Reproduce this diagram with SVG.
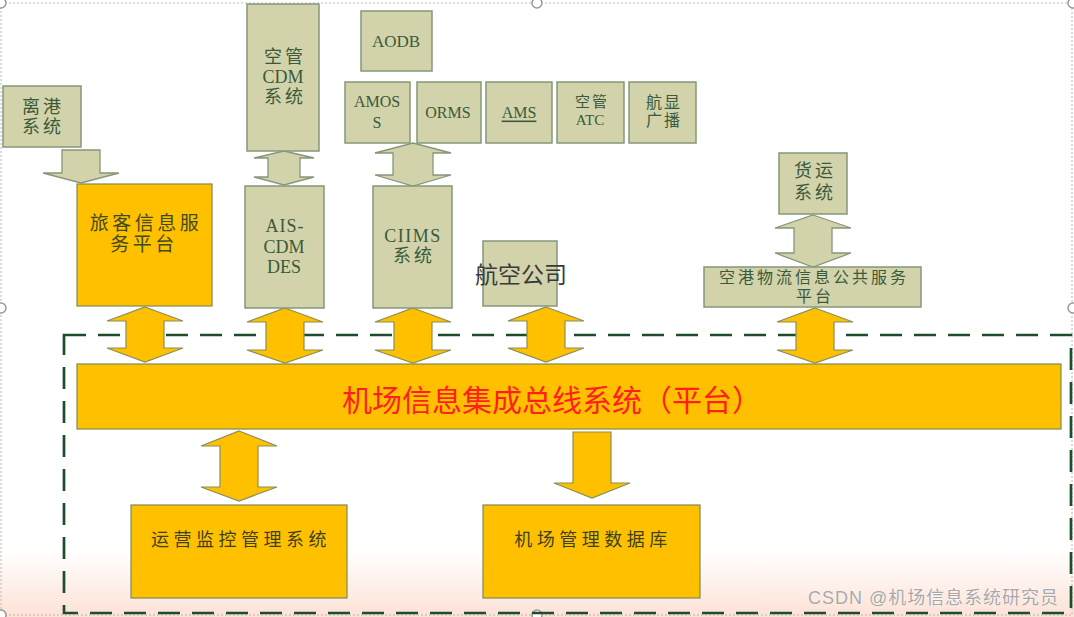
<svg xmlns="http://www.w3.org/2000/svg" width="1074" height="617" viewBox="0 0 1074 617">
<defs>
<linearGradient id="bg" x1="0" y1="0" x2="0" y2="1">
<stop offset="0" stop-color="#ffffff"/>
<stop offset="1" stop-color="#fde2d6"/>
</linearGradient>
<style>
.g{fill:#D2D3AB;stroke:#85977A;stroke-width:1.5}
.y{fill:#FFC000;stroke:#7F8A55;stroke-width:1.2}
.ga{fill:#D2D3AB;stroke:#85977A;stroke-width:1.3}
.ya{fill:#FFC000;stroke:#8A8F55;stroke-width:1.2}
.t{font-family:"Liberation Serif","Noto Sans CJK SC",serif;fill:#3A5A3A;text-anchor:middle;dominant-baseline:central}
.c{letter-spacing:3px}
.b{font-family:"Liberation Serif","Noto Sans CJK SC",serif;fill:#3E4020;text-anchor:middle;dominant-baseline:central;font-size:18px;letter-spacing:4.5px}
</style>
</defs>
<rect width="1074" height="617" fill="#ffffff"/>
<rect x="0" y="550" width="1074" height="67" fill="url(#bg)"/>
<rect x="1" y="3" width="1071" height="612" fill="none" stroke="#b8b8b8" stroke-width="1" stroke-dasharray="2,2"/>
<g fill="#ffffff" stroke="#999999" stroke-width="1.5">
<circle cx="1" cy="3" r="5"/><circle cx="537" cy="3" r="5"/><circle cx="1073" cy="3" r="5"/>
<circle cx="1" cy="308" r="5"/><circle cx="1073" cy="308" r="5"/>
<circle cx="1" cy="615" r="5"/><circle cx="537" cy="615" r="5"/>
</g>

<rect id="platform-frame" x="64" y="335" width="1007" height="278" fill="none" stroke="#1E4D2B" stroke-width="2.7" stroke-dasharray="22,12"/>

<g id="connectors">
<polygon class="ga" points="62,150 100,150 100,173 119,173 81,183 43,173 62,173"/>
<polygon class="ga" points="284,151 314,158 300,158 300,177 314,177 284,185 254,177 268,177 268,158 254,158"/>
<polygon class="ga" points="413,143 451,153 433,153 433,175 451,175 413,186 375,175 393,175 393,153 375,153"/>
<polygon class="ga" points="813,215 851,228 832,228 832,253 851,253 813,267 775,253 794,253 794,228 775,228"/>
<polygon class="ya" points="145,307 183,321 164,321 164,348 183,348 145,362 107,348 126,348 126,321 107,321"/>
<polygon class="ya" points="285,308 323,322 304,322 304,350 323,350 285,363 247,350 266,350 266,322 247,322"/>
<polygon class="ya" points="413,308 451,322 432,322 432,350 451,350 413,363 375,350 394,350 394,322 375,322"/>
<polygon class="ya" points="546,307 584,321 565,321 565,348 584,348 546,362 508,348 527,348 527,321 508,321"/>
<polygon class="ya" points="815,308 853,322 834,322 834,350 853,350 815,363 777,350 796,350 796,322 777,322"/>
<polygon class="ya" points="239,431 277,446 258,446 258,487 277,487 239,501 201,487 220,487 220,446 201,446"/>
<polygon class="ya" points="573,432 611,432 611,483 630,483 592,498 554,483 573,483"/>
</g>

<g id="lg">
<rect class="g" x="3" y="86" width="78" height="61"/>
<text class="t c" x="43" y="107" font-size="18">离港</text>
<text class="t c" x="43" y="127" font-size="18">系统</text>
</g>

<g id="pis">
<rect class="y" x="77" y="184" width="135" height="122"/>
<text class="t" x="146" y="223" font-size="19" style="fill:#3E4A22;letter-spacing:3.5px">旅客信息服</text>
<text class="t" x="144" y="244" font-size="19" style="fill:#3E4A22;letter-spacing:3.5px">务平台</text>
</g>

<g id="atccdm">
<rect class="g" x="247" y="4" width="72" height="147"/>
<text class="t c" x="285" y="57" font-size="18">空管</text>
<text class="t" x="283" y="77" font-size="18">CDM</text>
<text class="t c" x="285" y="97" font-size="18">系统</text>
</g>

<g id="aiscdm">
<rect class="g" x="245" y="186" width="79" height="122"/>
<text class="t" x="285" y="226" font-size="18" style="letter-spacing:1px">AIS-</text>
<text class="t" x="284" y="247" font-size="18">CDM</text>
<text class="t" x="284" y="267" font-size="18">DES</text>
</g>

<g id="aodb">
<rect class="g" x="361" y="11" width="71" height="60"/>
<text class="t" x="396" y="41" font-size="17">AODB</text>
</g>

<g id="amoss">
<rect class="g" x="345" y="82" width="65" height="61"/>
<text class="t" x="377" y="101" font-size="16">AMOS</text>
<text class="t" x="377" y="122" font-size="16">S</text>
</g>

<g id="orms">
<rect class="g" x="417" y="82" width="64" height="61"/>
<text class="t" x="448" y="112" font-size="16">ORMS</text>
</g>

<g id="ams">
<rect class="g" x="486" y="82" width="66" height="61"/>
<text class="t" x="519" y="112" font-size="16" text-decoration="underline">AMS</text>
</g>

<g id="atc">
<rect class="g" x="557" y="82" width="67" height="61"/>
<text class="t" x="592" y="102" font-size="15" style="letter-spacing:2px">空管</text>
<text class="t" x="590" y="120" font-size="15">ATC</text>
</g>

<g id="fids">
<rect class="g" x="629" y="82" width="67" height="61"/>
<text class="t" x="664" y="102" font-size="16" style="letter-spacing:2px">航显</text>
<text class="t" x="664" y="120" font-size="16" style="letter-spacing:2px">广播</text>
</g>

<g id="ciims">
<rect class="g" x="373" y="186" width="79" height="122"/>
<text class="t" x="413" y="236" font-size="18" style="letter-spacing:1.5px">CIIMS</text>
<text class="t c" x="414" y="256" font-size="18">系统</text>
</g>

<g id="airline">
<rect class="g" x="483" y="241" width="74" height="65"/>
<text x="521" y="273" font-family="'Noto Sans CJK SC','Liberation Sans',sans-serif" font-size="23" fill="#3a3a3a" text-anchor="middle" dominant-baseline="central">航空公司</text>
</g>

<g id="cargo">
<rect class="g" x="779" y="153" width="68" height="61"/>
<text class="t c" x="815" y="171" font-size="18">货运</text>
<text class="t c" x="815" y="193" font-size="18">系统</text>
</g>

<g id="logistics">
<rect class="g" x="704" y="267" width="217" height="40"/>
<text class="t" x="814" y="277" font-size="16" style="letter-spacing:3px">空港物流信息公共服务</text>
<text class="t" x="815" y="296" font-size="16" style="letter-spacing:3px">平台</text>
</g>

<g id="bus">
<rect class="y" x="77" y="364" width="984" height="65"/>
<text x="552" y="398" font-family="'Noto Sans CJK SC','Liberation Sans',sans-serif" font-size="30" fill="#FF1F1F" text-anchor="middle" dominant-baseline="central">机场信息集成总线系统（平台）</text>
</g>

<g id="ops">
<rect class="y" x="131" y="505" width="216" height="93"/>
<text class="b" x="241" y="540">运营监控管理系统</text>
</g>

<g id="db">
<rect class="y" x="483" y="505" width="217" height="93"/>
<text class="b" x="593" y="540">机场管理数据库</text>
</g>

<text x="808" y="598" font-family="'Liberation Sans','Noto Sans CJK SC',sans-serif" font-size="18" fill="#a8a8a8" stroke="#ffffff" stroke-width="0.6" paint-order="stroke" textLength="250" dominant-baseline="central">CSDN @机场信息系统研究员</text>
</svg>
